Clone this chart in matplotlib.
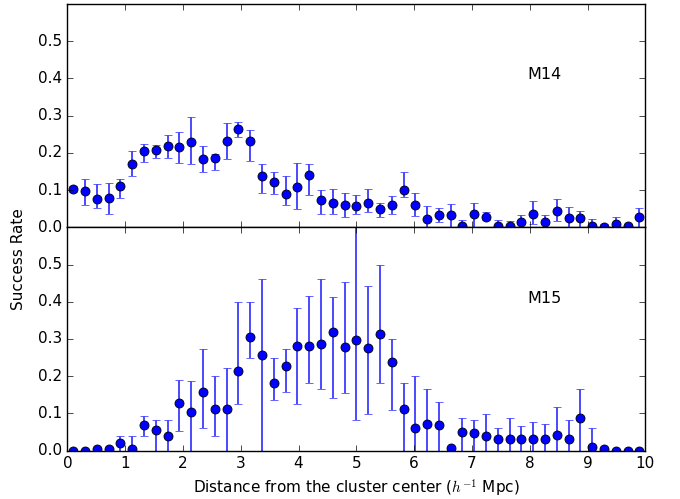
import numpy as np
import matplotlib
matplotlib.use('Agg')
import matplotlib.pyplot as plt
import matplotlib.style as style

style.use('classic')
matplotlib.rcParams.update({'font.size': 11})

# bin centres, 49 bins over 0-10 h^-1 Mpc
nbins = 49
dist = (np.arange(nbins) + 0.5) * 10.0 / nbins

# M14: success rate with lower/upper bounds of the error bar
m14_rate = [0.102, 0.097, 0.077, 0.078, 0.111, 0.170, 0.205, 0.208, 0.219, 0.217,
            0.229, 0.184, 0.185, 0.232, 0.263, 0.232, 0.139, 0.122, 0.090, 0.109,
            0.140, 0.072, 0.065, 0.059, 0.057, 0.066, 0.049, 0.059, 0.100, 0.061,
            0.022, 0.032, 0.032, 0.004, 0.035, 0.027, 0.004, 0.003, 0.013, 0.035,
            0.013, 0.045, 0.024, 0.024, 0.004, 0.001, 0.010, 0.003, 0.027]
m14_lo = [0.094, 0.059, 0.052, 0.037, 0.079, 0.137, 0.176, 0.187, 0.187, 0.173,
          0.170, 0.148, 0.154, 0.184, 0.242, 0.179, 0.093, 0.089, 0.059, 0.049,
          0.086, 0.035, 0.035, 0.029, 0.035, 0.042, 0.028, 0.037, 0.082, 0.030,
          0.0, 0.014, 0.0, 0.0, 0.0, 0.019, 0.0, 0.0, 0.0, 0.010,
          0.0, 0.016, 0.0, 0.0, 0.0, 0.0, 0.0, 0.0, 0.0]
m14_hi = [0.110, 0.131, 0.115, 0.118, 0.131, 0.205, 0.223, 0.221, 0.248, 0.257,
          0.297, 0.219, 0.197, 0.281, 0.284, 0.262, 0.170, 0.149, 0.137, 0.174,
          0.170, 0.100, 0.102, 0.093, 0.087, 0.103, 0.066, 0.084, 0.149, 0.093,
          0.057, 0.052, 0.063, 0.019, 0.066, 0.040, 0.019, 0.017, 0.034, 0.070,
          0.034, 0.077, 0.055, 0.044, 0.023, 0.008, 0.029, 0.010, 0.052]

# M15
m15_rate = [0.0, 0.0, 0.005, 0.004, 0.021, 0.005, 0.069, 0.054, 0.040, 0.128,
            0.105, 0.157, 0.111, 0.111, 0.215, 0.306, 0.256, 0.181, 0.226, 0.281,
            0.281, 0.286, 0.318, 0.279, 0.297, 0.276, 0.314, 0.239, 0.111, 0.061,
            0.072, 0.068, 0.007, 0.051, 0.047, 0.038, 0.031, 0.032, 0.031, 0.032,
            0.032, 0.041, 0.031, 0.088, 0.011, 0.004, 0.0, 0.0, 0.0]
m15_lo = [0.0, 0.0, 0.0, 0.0, 0.0, 0.0, 0.040, 0.0, 0.0, 0.052,
          0.0, 0.061, 0.040, 0.0, 0.124, 0.249, 0.0, 0.136, 0.157, 0.124,
          0.181, 0.166, 0.141, 0.154, 0.081, 0.099, 0.181, 0.108, 0.0, 0.0,
          0.0, 0.0, 0.0, 0.0, 0.0, 0.0, 0.0, 0.0, 0.0, 0.0,
          0.0, 0.0, 0.0, 0.0, 0.0, 0.0, 0.0, 0.0, 0.0]
m15_hi = [0.0, 0.0, 0.008, 0.007, 0.040, 0.040, 0.094, 0.081, 0.081, 0.191,
          0.188, 0.272, 0.200, 0.222, 0.400, 0.400, 0.462, 0.249, 0.272, 0.384,
          0.416, 0.462, 0.412, 0.454, 0.650, 0.443, 0.500, 0.300, 0.181, 0.200,
          0.166, 0.130, 0.010, 0.088, 0.081, 0.099, 0.060, 0.088, 0.066, 0.076,
          0.071, 0.116, 0.081, 0.165, 0.060, 0.008, 0.0, 0.0, 0.0]

panels = [('M14', m14_rate, m14_lo, m14_hi), ('M15', m15_rate, m15_lo, m15_hi)]

fig = plt.figure(figsize=(6.8, 4.99), dpi=100, facecolor='white')
left, right, bottom, top = 0.099, 0.949, 0.097, 0.992
h = (top - bottom) / 2.0

axes = []
for k, (name, rate, lo, hi) in enumerate(panels):
    ax = fig.add_axes([left, top - (k + 1) * h, right - left, h])
    rate = np.array(rate)
    yerr = [rate - np.array(lo), np.array(hi) - rate]
    ax.errorbar(dist, rate, yerr=yerr, fmt='o', color='b', ecolor='#4a4aff',
                elinewidth=1.4, capsize=3, capthick=1.4, markersize=6.5,
                markeredgecolor='k', markeredgewidth=0.6)
    ax.set_xlim(0, 10)
    ax.set_ylim(0, 0.6)
    ax.set_yticks([0.0, 0.1, 0.2, 0.3, 0.4, 0.5])
    ax.set_yticklabels(['0.0', '0.1', '0.2', '0.3', '0.4', '0.5'])
    ax.set_xticks(range(11))
    ax.text(8.25, 0.41, name, ha='center', va='center', fontsize=11.5)
    axes.append(ax)

axes[0].set_xticklabels([])
axes[1].set_xlabel(r'Distance from the cluster center ($h^{-1}$ Mpc)')
fig.text(0.027, 0.48, 'Success Rate', rotation=90, ha='center', va='center', fontsize=11)

plt.savefig('out.png', dpi=100, facecolor='white')
